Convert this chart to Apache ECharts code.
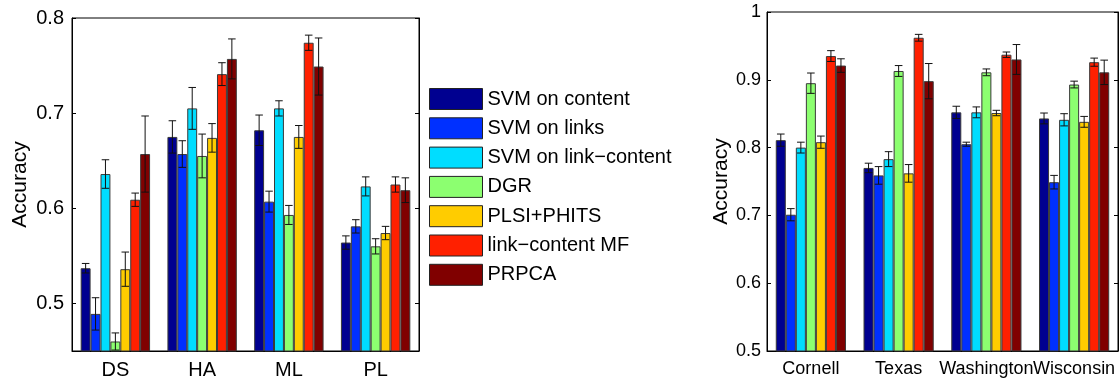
<!DOCTYPE html>
<html>
<head>
<meta charset="utf-8">
<title>Accuracy</title>
<script src="https://cdn.jsdelivr.net/npm/echarts@6/dist/echarts.min.js"></script>
<style>
html,body{margin:0;padding:0;background:#fff;}
#main{width:1119px;height:383px;}
</style>
</head>
<body>
<div id="main"></div>
<script>
// 方法名称 / 颜色
var methods = ['SVM on content','SVM on links','SVM on link\u2212content','DGR','PLSI+PHITS','link\u2212content MF','PRPCA'];
var colors = ['#000090','#0030ff','#00ddff','#8cff70','#ffcc00','#ff2000','#800000'];

// 左图
var leftCats = ['DS','HA','ML','PL'];
var leftTicks = [0.5,0.6,0.7,0.8];
var leftMean = [
	[0.537,0.675,0.682,0.564],
	[0.489,0.657,0.607,0.581],
	[0.636,0.705,0.705,0.623],
	[0.460,0.655,0.593,0.560],
	[0.536,0.674,0.675,0.574],
	[0.609,0.741,0.774,0.625],
	[0.657,0.757,0.749,0.619]
];
var leftErr = [
	[0.005,0.017,0.016,0.007],
	[0.017,0.014,0.011,0.007],
	[0.015,0.022,0.008,0.010],
	[0.009,0.023,0.010,0.008],
	[0.018,0.015,0.012,0.007],
	[0.007,0.012,0.008,0.008],
	[0.040,0.021,0.030,0.013]
];

// 右图
var rightCats = ['Cornell','Texas','Washington','Wisconsin'];
var rightTicks = [0.5,0.6,0.7,0.8,0.9,1];
var rightMean = [
	[0.811,0.770,0.852,0.843],
	[0.701,0.759,0.805,0.749],
	[0.800,0.783,0.852,0.841],
	[0.895,0.913,0.911,0.893],
	[0.808,0.762,0.851,0.838],
	[0.935,0.962,0.937,0.926],
	[0.921,0.898,0.930,0.911]
];
var rightErr = [
	[0.009,0.007,0.009,0.008],
	[0.009,0.013,0.003,0.010],
	[0.008,0.011,0.008,0.009],
	[0.015,0.008,0.005,0.005],
	[0.009,0.013,0.004,0.008],
	[0.008,0.005,0.004,0.006],
	[0.010,0.026,0.022,0.018]
];

var FONT = 'Liberation Sans';
var CAT_GAP = 0.2;

function tickFmt(v){
	return v == 1 ? '1' : v.toFixed(1);
}

//误差棒
function errRender(k){
	return function(params, api){
		var ci = api.value(0);
		var m = api.value(1);
		var e = api.value(2);
		var band = api.size([1,0])[0];
		var bw = band*(1-CAT_GAP)/methods.length;
		var x = api.coord([ci,m])[0] + (k-(methods.length-1)/2)*bw;
		var yHi = api.coord([ci,m+e])[1];
		var yLo = api.coord([ci,m-e])[1];
		var cap = bw*0.38;
		var st = {stroke:'#111',lineWidth:1};
		return {
			type:'group',
			children:[
				{type:'line',shape:{x1:x,y1:yHi,x2:x,y2:yLo},style:st},
				{type:'line',shape:{x1:x-cap,y1:yHi,x2:x+cap,y2:yHi},style:st},
				{type:'line',shape:{x1:x-cap,y1:yLo,x2:x+cap,y2:yLo},style:st}
			]
		};
	};
}

function yAxisOf(grid,min,max,ticks,fs,show,nameGap){
	return {
		type:'value',gridIndex:grid,min:min,max:max,
		position:show?'left':'right',
		name:show?'Accuracy':'',nameLocation:'middle',nameRotate:90,nameGap:nameGap,
		nameTextStyle:{fontFamily:FONT,fontSize:21,color:'#000'},
		axisLine:{show:true,lineStyle:{color:'#000',width:1}},
		axisTick:{show:true,inside:true,length:4,customValues:ticks,lineStyle:{color:'#000'}},
		axisLabel:{show:show,customValues:ticks,formatter:tickFmt,fontFamily:FONT,fontSize:fs,color:'#000',margin:show?(fs>19?8:6):0},
		splitLine:{show:false}
	};
}

function xAxisOf(grid,cats,fs){
	return {
		type:'category',gridIndex:grid,data:cats,
		axisLine:{show:true,onZero:false,lineStyle:{color:'#000',width:1}},
		axisTick:{show:false},
		axisLabel:{interval:0,hideOverlap:false,fontFamily:FONT,fontSize:fs,color:'#000',margin:9}
	};
}

var series = [];
function addPanel(xi,yi,cats,mean,err){
	for(var k=0;k<methods.length;k++){
		series.push({
			name:methods[k],type:'bar',xAxisIndex:xi,yAxisIndex:yi,
			barGap:'0%',barCategoryGap:(CAT_GAP*100)+'%',
			itemStyle:{color:colors[k],borderColor:'#3a3a3a',borderWidth:1},
			data:mean[k],
			animation:false
		});
	}
	for(var k=0;k<methods.length;k++){
		var d = [];
		for(var c=0;c<cats.length;c++){
			d.push([c,mean[k][c],err[k][c]]);
		}
		series.push({
			type:'custom',xAxisIndex:xi,yAxisIndex:yi,z:5,
			renderItem:errRender(k),
			encode:{x:0,y:1},
			data:d,
			animation:false
		});
	}
}
addPanel(0,0,leftCats,leftMean,leftErr);
addPanel(1,2,rightCats,rightMean,rightErr);

var option = {
	backgroundColor:'#fff',
	animation:false,
	legend:{
		data:methods,orient:'vertical',left:429,top:88,padding:0,
		itemWidth:53,itemHeight:21,itemGap:7.3,
		icon:'rect',
		itemStyle:{borderColor:'#222',borderWidth:1},
		textStyle:{fontFamily:FONT,fontSize:20,lineHeight:21,color:'#000',padding:[0,0,0,0]}
	},
	grid:[
		{left:72,top:18,width:347,height:333,show:true,borderColor:'#000',borderWidth:1},
		{left:767,top:12,width:351,height:339,show:true,borderColor:'#000',borderWidth:1}
	],
	xAxis:[xAxisOf(0,leftCats,20),xAxisOf(1,rightCats,18)],
	yAxis:[
		yAxisOf(0,0.45,0.8,leftTicks,20,true,41),
		yAxisOf(0,0.45,0.8,leftTicks,20,false,0),
		yAxisOf(1,0.5,1,rightTicks,18,true,34),
		yAxisOf(1,0.5,1,rightTicks,18,false,0)
	],
	series:series
};

var myChart = echarts.init(document.getElementById('main'));
myChart.setOption(option);
</script>
</body>
</html>
